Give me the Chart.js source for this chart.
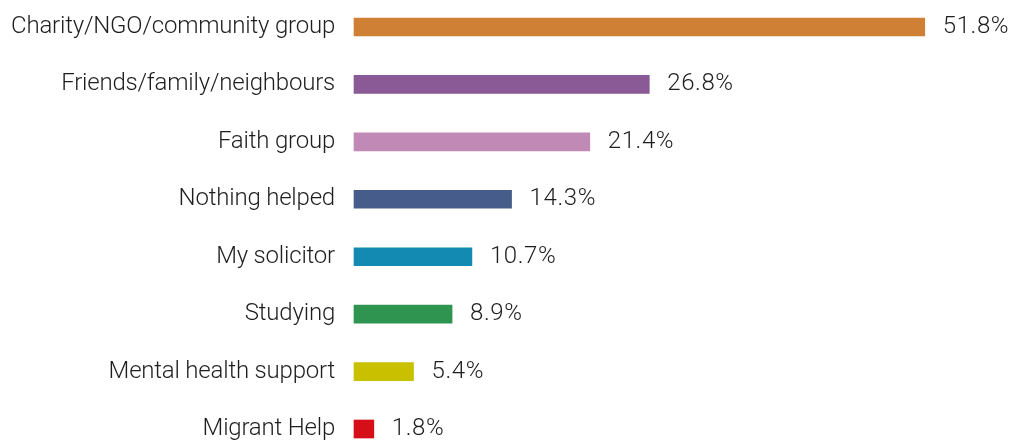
<!DOCTYPE html>
<html>
<head>
<meta charset="utf-8">
<script src="https://cdn.jsdelivr.net/npm/chart.js@4/dist/chart.umd.min.js"></script>
<style>
  html, body { margin: 0; padding: 0; background: #ffffff; }
  #wrap { width: 1012px; height: 441px; position: relative; }
</style>
</head>
<body>
<div id="wrap"><canvas id="c"></canvas></div>
<script>
const categories = [
  'Charity/NGO/community group',
  'Friends/family/neighbours',
  'Faith group',
  'Nothing helped',
  'My solicitor',
  'Studying',
  'Mental health support',
  'Migrant Help'
];
const values = [51.8, 26.8, 21.4, 14.3, 10.7, 8.9, 5.4, 1.8];
const valueLabels = ['51.8%', '26.8%', '21.4%', '14.3%', '10.7%', '8.9%', '5.4%', '1.8%'];
const barColors = ['#CF8035', '#8A5A96', '#C18AB6', '#465C8B', '#128AB2', '#2E9450', '#C9C100', '#D50E18'];

const FONT = '300 24px Roboto, "Helvetica Neue", Arial, sans-serif';
const TEXT_COLOR = '#1e1e1e';

const labelPlugin = {
  id: 'labelPlugin',
  afterDatasetsDraw(chart) {
    const ctx = chart.ctx;
    const yScale = chart.scales.y;
    const meta = chart.getDatasetMeta(0);
    ctx.save();
    ctx.font = FONT;
    ctx.fillStyle = TEXT_COLOR;
    ctx.textBaseline = 'middle';
    categories.forEach((cat, i) => {
      const y = yScale.getPixelForValue(i);
      ctx.textAlign = 'right';
      ctx.letterSpacing = '-0.2px';
      ctx.fillText(cat, chart.chartArea.left - 19, y);
      const bar = meta.data[i];
      ctx.textAlign = 'left';
      ctx.letterSpacing = '0.6px';
      ctx.fillText(valueLabels[i], bar.x + 18, y);
    });
    ctx.restore();
  }
};

new Chart(document.getElementById('c'), {
  type: 'bar',
  data: {
    labels: categories,
    datasets: [{
      data: values,
      backgroundColor: barColors,
      borderWidth: 0,
      barThickness: 18,
      clip: false
    }]
  },
  options: {
    indexAxis: 'y',
    responsive: true,
    maintainAspectRatio: false,
    animation: false,
    layout: { padding: { left: 354, right: 52, top: 27, bottom: 12 } },
    plugins: { legend: { display: false }, tooltip: { enabled: false } },
    scales: {
      x: { display: false, min: 0, max: 55 },
      y: { display: false, offset: false }
    }
  },
  plugins: [labelPlugin]
});
</script>
</body>
</html>
